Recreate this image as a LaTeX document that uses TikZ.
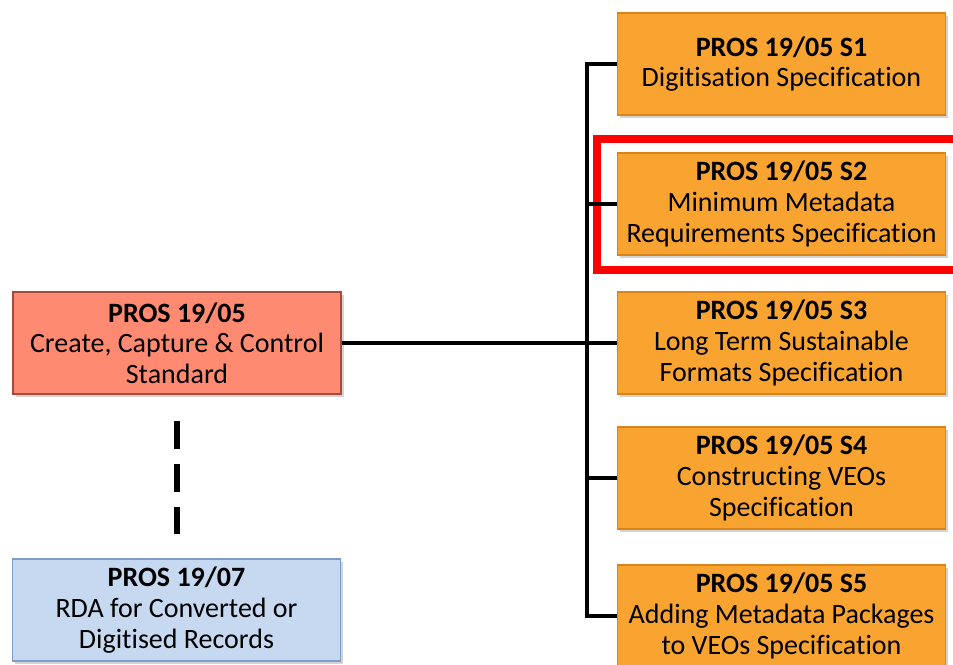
\documentclass[tikz,border=0pt]{standalone}
\usepackage{fontspec}
\setmainfont{Carlito}[Ligatures=NoCommon]
\usepackage{xcolor}
\usetikzlibrary{shadows}

\definecolor{specfill}{HTML}{F9A431}
\definecolor{specedge}{HTML}{D98318}
\definecolor{stdfill}{HTML}{FF8A72}
\definecolor{stdedge}{HTML}{A24B3E}
\definecolor{rdafill}{HTML}{C6D9F1}
\definecolor{rdaedge}{HTML}{7E9CC8}
\definecolor{hilite}{HTML}{FF0000}

\tikzset{
  box/.style={rectangle, minimum width=246pt, minimum height=76.5pt,
    align=center, line width=1.2pt, inner sep=1pt,
    font=\fontsize{21}{23}\selectfont,
    drop shadow={shadow xshift=2pt, shadow yshift=-2.5pt, opacity=0.35}},
  spec/.style={box, fill=specfill, draw=specedge},
  std/.style={box, fill=stdfill, draw=stdedge},
  rda/.style={box, fill=rdafill, draw=rdaedge},
  link/.style={line width=2.4pt, black},
}

\begin{document}
\begin{tikzpicture}[x=0.75pt, y=-0.75pt]
\useasboundingbox (0,0) rectangle (953,664);

% red frame round S2
\draw [hilite, line width=6pt] (597,139) rectangle (990,270);

% the specifications
\node [spec] (s1) at (781.5,64) {\textbf{PROS 19/05 S1}\\Digitisation Specification};
\node [spec] (s2) at (781.5,204) {\textbf{PROS 19/05 S2}\\Minimum Metadata\\Requirements Specification};
\node [spec] (s3) at (781.5,343) {\textbf{PROS 19/05 S3}\\Long Term Sustainable\\Formats Specification};
\node [spec] (s4) at (781.5,478) {\textbf{PROS 19/05 S4}\\Constructing VEOs\\Specification};
\node [spec] (s5) at (781.5,616) {\textbf{PROS 19/05 S5}\\Adding Metadata Packages\\to VEOs Specification};

% the standard and the RDA
\node [std] (std) at (177,343) {\textbf{PROS 19/05}\\Create, Capture \& Control\\Standard};
\node [rda] (rda) at (176.5,610) {\textbf{PROS 19/07}\\RDA for Converted or\\Digitised Records};

\coordinate (trunk) at (587,0);

\draw [link, line width=3pt] (std.east) -- (s3.west);
\draw [link] (s1.west) -| (trunk |- s5.west) -- (s5.west);
\draw [link] (s2.west) -- (trunk |- s2.west);
\draw [link] (s4.west) -- (trunk |- s4.west);

\draw [line width=4pt, dash pattern=on 21pt off 11.5pt, shorten <=19.5pt, shorten >=18pt] (std.south) -- (std.south |- rda.north);

\end{tikzpicture}
\end{document}
